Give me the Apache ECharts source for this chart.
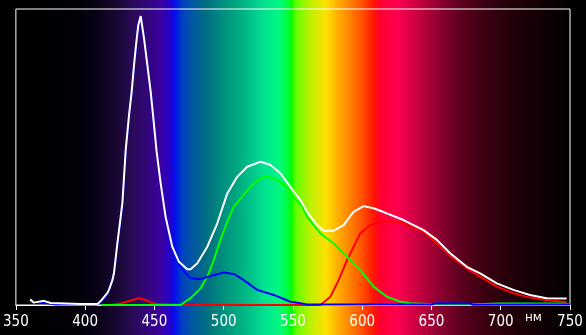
<!DOCTYPE html>
<html>
<head>
<meta charset="utf-8">
<script src="https://cdn.jsdelivr.net/npm/echarts@6/dist/echarts.min.js"></script>
<style>
html,body{margin:0;padding:0;background:#000;}
#chart{width:586px;height:335px;}
</style>
</head>
<body>
<div id="chart"></div>
<script>
// Wavelength ticks (nm)
const xTicks = [350, 400, 450, 500, 550, 600, 650, 700, 750];
const unitLabel = 'нм';

// Spectra: [wavelength nm, relative intensity %]
const whiteSeries = [
  [360.3,1.9],[363.0,0.8],[370.2,1.4],[375.2,0.7],[386.0,0.5],[396.8,0.3],[408.9,0.3],[411.5,1.5],
  [416.1,4.1],[417.2,5.1],[419.7,8.4],[420.8,10.8],[423.3,20.9],[426.9,34.5],[429.3,52.4],[431.7,64.2],
  [433.6,72.1],[435.3,81.1],[437.0,89.0],[438.4,94.6],[440.1,97.6],[442.5,90.1],[444.9,81.1],[447.3,72.1],
  [449.0,64.2],[451.6,51.8],[454.5,41.2],[458.1,29.7],[462.9,19.7],[467.7,14.6],[473.7,12.1],[476.1,12.1],
  [481.0,14.1],[488.2,19.7],[495.4,27.6],[502.6,37.7],[509.8,43.3],[517.0,46.7],[526.6,48.4],[533.8,47.3],
  [541.0,44.5],[550.6,38.3],[555.4,35.5],[560.2,31.5],[567.4,27.0],[572.2,25.1],[579.4,25.1],[586.6,27.0],
  [593.8,31.5],[601.0,33.4],[608.2,32.7],[615.4,31.4],[629.8,28.7],[644.3,25.3],[653.9,22.0],[663.5,17.5],
  [675.5,12.9],[685.1,10.7],[697.2,7.3],[709.1,5.1],[721.1,3.4],[733.2,2.3],[747.6,2.2]
];
const redSeries = [
  [418.5,0],[425.7,0.5],[432.9,1.5],[438.9,2.3],[443.7,1.7],[447.3,0.8],[452.1,0.3],[468.9,0],
  [569.8,0],[577.0,2.8],[583.0,8.4],[589.1,15.2],[592.7,18.6],[598.6,24.2],[605.9,27.0],[615.4,28.5],
  [629.8,27.6],[644.3,24.8],[653.9,20.8],[663.5,16.6],[675.5,12.4],[685.1,9.6],[697.2,6.2],[709.1,4.0],
  [721.1,2.5],[733.2,1.6],[747.6,1.0]
];
const greenSeries = [
  [411.3,0],[468.9,0],[476.1,2.3],[483.3,5.6],[488.2,9.6],[492.9,15.2],[497.7,22.0],[502.6,28.1],
  [507.3,33.2],[513.4,36.6],[519.4,40.0],[526.6,42.8],[531.4,43.6],[538.6,42.2],[545.8,40.0],[550.6,36.0],
  [555.4,34.4],[560.2,29.8],[569.8,24.2],[579.4,20.8],[589.1,16.3],[598.6,11.8],[608.2,6.2],[617.9,2.8],
  [627.5,1.1],[634.7,0.6],[656.3,0.2],[675.0,0.2],[700.0,0.5],[742.8,0.5],[750.0,0.3]
];
const blueSeries = [
  [365.9,0.6],[369.5,0.8],[373.8,0.5],[378.8,0.2],[408.4,0.2],[412.0,1.2],[416.1,3.7],[420.8,10.5],
  [423.3,20.3],[426.9,33.8],[429.3,51.7],[431.7,64.0],[433.6,71.6],[435.3,80.7],[437.0,88.5],[438.4,94.3],
  [440.1,97.3],[442.5,89.9],[444.9,80.7],[447.3,71.6],[449.0,63.9],[451.6,51.4],[454.5,40.9],[458.1,29.4],
  [462.9,19.3],[467.7,13.9],[471.3,11.3],[476.1,9.0],[483.3,8.7],[490.5,9.8],[500.1,11.0],[507.3,10.5],
  [514.5,8.4],[524.2,5.1],[536.2,3.4],[548.2,1.1],[555.4,0.6],[560.2,0.2],[591.4,0.2],[650.0,0.2],
  [653.4,0.6],[677.9,0.5],[680.0,0.1],[750.0,0.2]
];

// Visible-spectrum background stops: [nm, colour]
const spectrumStops = [
  [350,'#000000'],[395,'#030008'],[410,'#0a0218'],[425,'#1c0838'],[435,'#2a0a5a'],[445,'#32067a'],
  [455,'#3a00a0'],[462,'#2000d0'],[465,'#0010f0'],[470,'#0040c0'],[478,'#0058a0'],[488,'#007080'],
  [500,'#00907f'],[510,'#00a880'],[520,'#00c48a'],[530,'#00e490'],[540,'#00f880'],[546,'#00ff40'],
  [549,'#00ff00'],[552,'#60ff00'],[563,'#c0f000'],[574,'#ffe000'],[582,'#ffb000'],[590,'#ff8800'],
  [600,'#ff5000'],[608,'#ff1800'],[613,'#ff0030'],[625,'#ff0050'],[640,'#c80040'],[655,'#900030'],
  [670,'#600020'],[690,'#380010'],[710,'#200008'],[730,'#100004'],[750,'#000000']
];

const chart = echarts.init(document.getElementById('chart'));
const lineStyle = (c) => ({ color: c, width: 2 });
chart.setOption({
  backgroundColor: '#000000',
  animation: false,
  grid: { left: 15, right: 16, top: 9, bottom: 30, show: true, borderColor: '#ffffff', borderWidth: 1, backgroundColor: 'transparent' },
  xAxis: {
    type: 'value', min: xTicks[0], max: xTicks[xTicks.length - 1], interval: 50,
    axisLine: { show: true, lineStyle: { color: '#ffffff', width: 1 } },
    axisTick: { show: true, length: 5, lineStyle: { color: '#ffffff' } },
    axisLabel: { color: '#ffffff', fontSize: 15, margin: 10,
      fontFamily: '"Liberation Sans Narrow","DejaVu Sans Condensed","Liberation Sans",sans-serif' },
    splitLine: { show: false }
  },
  yAxis: { type: 'value', min: 0, max: 100, show: false, splitLine: { show: false } },
  series: [
    { type: 'line', data: redSeries, showSymbol: false, lineStyle: lineStyle('#ff0000'), z: 3 },
    { type: 'line', data: greenSeries, showSymbol: false, lineStyle: lineStyle('#00ff00'), z: 4 },
    { type: 'line', data: blueSeries, showSymbol: false, lineStyle: lineStyle('#0000ff'), z: 5 },
    { type: 'line', data: whiteSeries, showSymbol: false, lineStyle: lineStyle('#ffffff'), z: 6 }
  ]
});

const x0 = chart.convertToPixel({ xAxisIndex: 0 }, xTicks[0]);
const x1 = chart.convertToPixel({ xAxisIndex: 0 }, xTicks[xTicks.length - 1]);
const span = xTicks[xTicks.length - 1] - xTicks[0];
const colorStops = spectrumStops.map(([nm, c]) => ({ offset: (nm - xTicks[0]) / span, color: c }));
const unitX = chart.convertToPixel({ xAxisIndex: 0 }, 725);
const axisY = chart.convertToPixel({ yAxisIndex: 0 }, 0);

chart.setOption({
  graphic: [
    { type: 'rect', z: -10, silent: true,
      shape: { x: x0, y: 0, width: x1 - x0, height: 335 },
      style: { fill: new echarts.graphic.LinearGradient(0, 0, 1, 0, colorStops) } },
    { type: 'text', z: 10, silent: true, x: unitX - 2, y: axisY + 13,
      style: { text: unitLabel, fill: '#ffffff', fontSize: 12, fontFamily: '"DejaVu Sans",sans-serif',
        align: 'center', verticalAlign: 'middle' } }
  ]
});
</script>
</body>
</html>
